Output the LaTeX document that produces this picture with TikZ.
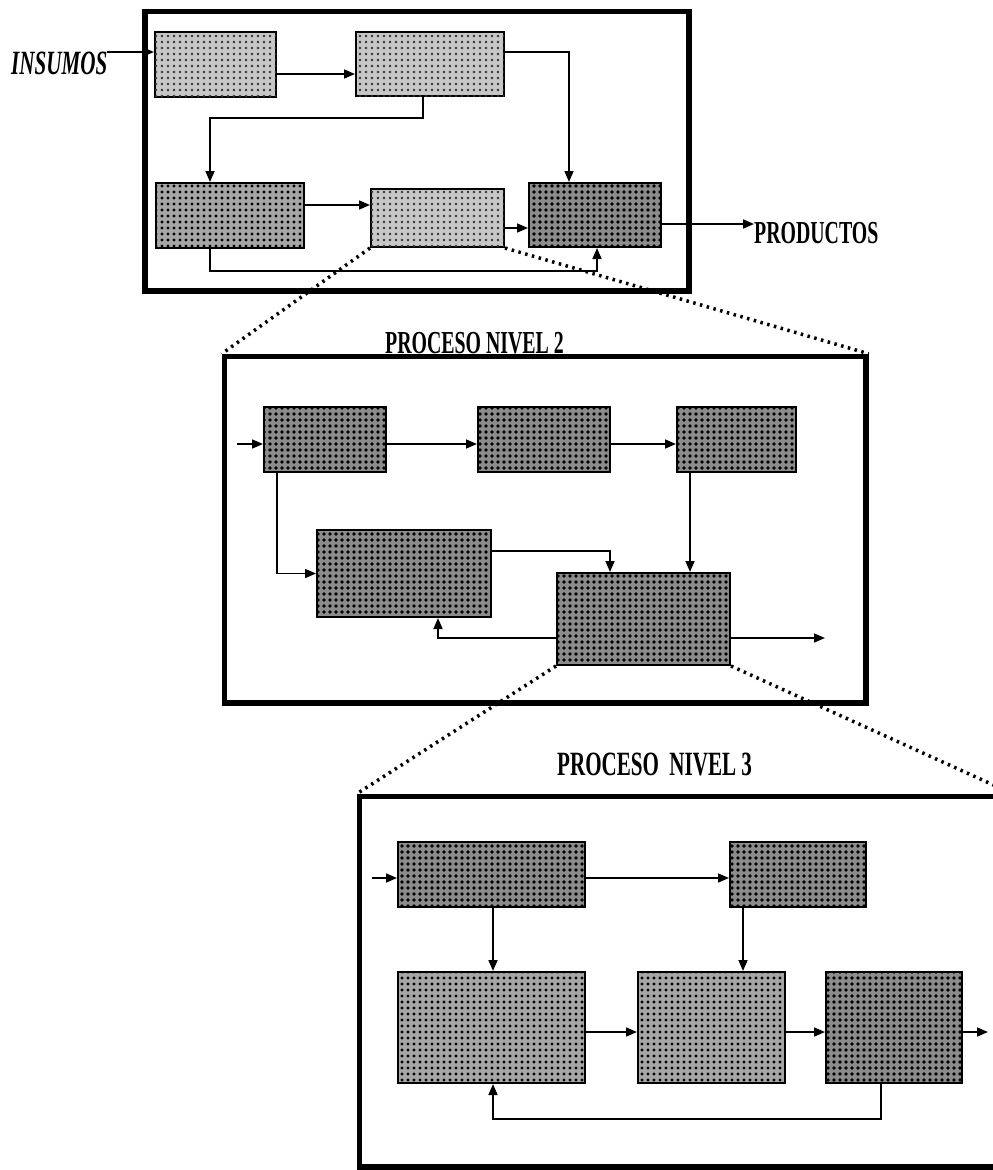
\documentclass[tikz,border=0pt]{standalone}
\usepackage{fontspec}
\newfontfamily\condfont[FakeStretch=0.62]{Liberation Serif}
\usetikzlibrary{arrows.meta,patterns.meta,calc}
\begin{document}
\begin{tikzpicture}[x=1pt,y=-1pt,
  box/.style={draw=black, line width=2pt, inner sep=0pt, rectangle},
  light/.style={fill=black!22, postaction={pattern={Dots[distance=6pt,radius=1.3pt]}, pattern color=black!80}},
  medium/.style={fill=black!35, postaction={pattern={Dots[distance=6pt,radius=1.6pt]}, pattern color=black}},
  dark/.style={fill=black!45, postaction={pattern={Dots[distance=6pt,radius=1.9pt]}, pattern color=black}},
  arr/.style={line width=1.6pt, -{Triangle[length=11pt,width=9pt]}},
  frame/.style={draw=black, line width=5.5pt, inner sep=0pt, rectangle},
  zoomline/.style={line width=3.5pt, dash pattern=on 2.5pt off 4.5pt},
  lbl/.style={inner sep=0pt, font=\condfont\bfseries\fontsize{32}{32}\selectfont}
]
\useasboundingbox (0,0) rectangle (993,1170);
\clip (0,0) rectangle (993,1170);

% ---------- frames ----------
\node[frame, minimum width=544pt, minimum height=279.5pt] (L1) at (417,151.25) {};
\node[frame, minimum width=641.5pt, minimum height=346.5pt] (L2) at (545.25,529.75) {};
\node[frame, minimum width=650.5pt, minimum height=370.5pt] (L3) at (684.75,981.75) {};

% ---------- labels ----------
\node[lbl, font=\condfont\bfseries\itshape\fontsize{34}{34}\selectfont, anchor=base west] (ins) at (11,74) {INSUMOS};
\node[lbl, anchor=base west] (prod) at (754,243) {PRODUCTOS};
\node[lbl, anchor=base west] (t2) at (385,353) {PROCESO NIVEL 2};
\node[lbl, font=\condfont\bfseries\fontsize{34}{34}\selectfont, anchor=base west] (t3) at (557,775) {PROCESO\hspace{5pt} NIVEL 3};

% ---------- level 1 boxes ----------
\node[box, light,  minimum width=121pt, minimum height=65pt] (A) at (215.5,64.5) {};
\node[box, light,  minimum width=148pt, minimum height=64pt] (B) at (430,64) {};
\node[box, medium, minimum width=148pt, minimum height=65pt] (C) at (230,215.5) {};
\node[box, light,  minimum width=133pt, minimum height=58pt] (D) at (437.5,218) {};
\node[box, dark,   minimum width=132pt, minimum height=64pt] (E) at (595,215) {};

% ---------- level 2 boxes ----------
\node[box, dark, minimum width=122pt, minimum height=65pt] (P1) at (325,439.5) {};
\node[box, dark, minimum width=132pt, minimum height=65pt] (P2) at (544,439.5) {};
\node[box, dark, minimum width=119pt, minimum height=65pt] (P3) at (736.5,439.5) {};
\node[box, dark, minimum width=174pt, minimum height=87pt] (P4) at (404,573.5) {};
\node[box, dark, minimum width=173pt, minimum height=92pt] (P5) at (643.5,619) {};

% ---------- level 3 boxes ----------
\node[box, dark,   minimum width=187pt, minimum height=65pt]  (G1) at (491.5,874.5) {};
\node[box, dark,   minimum width=136pt, minimum height=65pt]  (G2) at (798,874.5) {};
\node[box, medium, minimum width=187pt, minimum height=111pt] (G3) at (491.5,1027.5) {};
\node[box, medium, minimum width=147pt, minimum height=111pt] (G4) at (711.5,1027.5) {};
\node[box, dark,   minimum width=136pt, minimum height=111pt] (G5) at (894,1027.5) {};

% ---------- zoom lines ----------
\draw[zoomline] (D.south west) -- (L2.north west);
\draw[zoomline] (D.south east) -- (L2.north east);
\draw[zoomline] (P5.south west) -- (L3.north west);
\draw[zoomline] (P5.south east) -- (L3.north east);

% ---------- level 1 connectors ----------
\coordinate (Ain) at ([yshift=12.5pt]A.west);
\draw[arr] (ins.east |- Ain) -- (Ain);
\draw[arr] ([yshift=-9.5pt]A.east) -- ([yshift=-9.5pt]A.east -| B.west);
\draw[arr] ([yshift=12pt]B.east) -| ([xshift=-26pt]E.north);
\draw[arr] ([xshift=-7pt]B.south) -- ++(0,21) -| ([xshift=-20pt]C.north);
\draw[arr] ([yshift=10.5pt]C.east) -- ([yshift=10.5pt]C.east -| D.west);
\draw[arr] ([yshift=-10pt]D.east) -- ([yshift=-10pt]D.east -| E.west);
\draw[arr] ([xshift=-20pt]C.south) -- ++(0,22) -| ([xshift=2pt]E.south);
\draw[arr] ([yshift=-9pt]E.east) -- ([yshift=-9pt]E.east -| prod.west);

% ---------- level 2 connectors ----------
\coordinate (in2) at (237,444);
\coordinate (out2) at (825,638);
\draw[arr] (in2) -- (in2 -| P1.west);
\draw[arr] ([yshift=-4.5pt]P1.east) -- ([yshift=-4.5pt]P1.east -| P2.west);
\draw[arr] ([yshift=-4.5pt]P2.east) -- ([yshift=-4.5pt]P2.east -| P3.west);
\draw[arr] ([xshift=-48pt]P1.south) |- (P4.west);
\draw[arr] ([xshift=-46.5pt]P3.south) -- ([xshift=-46.5pt]P3.south |- P5.north);
\draw[arr] ([yshift=22.5pt]P4.east) -| ([xshift=-33.5pt]P5.north);
\draw[arr] ([yshift=-19pt]P5.west) -| ([xshift=34pt]P4.south);
\draw[arr] ([yshift=-19pt]P5.east) -- (out2);

% ---------- level 3 connectors ----------
\coordinate (in3) at (372,878);
\coordinate (out3) at (988,1032);
\draw[arr] (in3) -- (in3 -| G1.west);
\draw[arr] ([yshift=-3.5pt]G1.east) -- ([yshift=-3.5pt]G1.east -| G2.west);
\draw[arr] ([xshift=1.5pt]G1.south) -- ([xshift=1.5pt]G1.south |- G3.north);
\draw[arr] ([xshift=-55pt]G2.south) -- ([xshift=-55pt]G2.south |- G4.north);
\draw[arr] ([yshift=-4.5pt]G3.east) -- ([yshift=-4.5pt]G3.east -| G4.west);
\draw[arr] ([yshift=-4.5pt]G4.east) -- ([yshift=-4.5pt]G4.east -| G5.west);
\draw[arr] ([yshift=-4.5pt]G5.east) -- (out3);
\draw[arr] ([xshift=-13pt]G5.south) -- ++(0,35) -| ([xshift=1.5pt]G3.south);
\end{tikzpicture}
\end{document}
